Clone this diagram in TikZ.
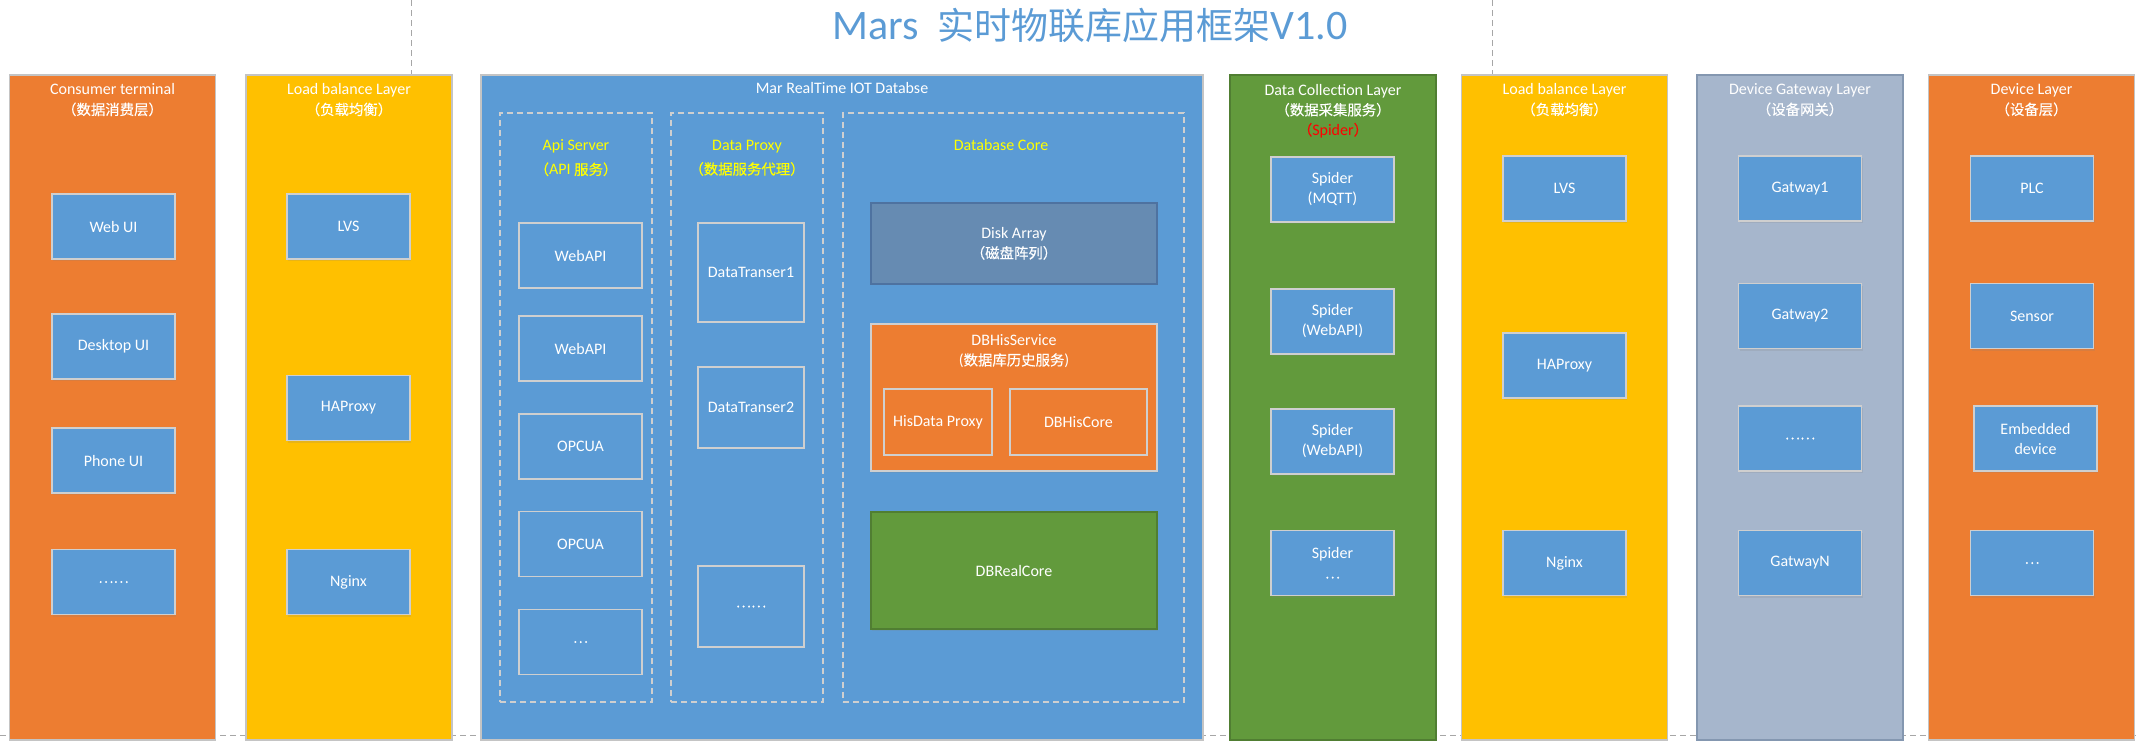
\documentclass[tikz,border=0pt]{standalone}
\usepackage{fontspec}
\setmainfont{Carlito}
\newfontfamily\cjk[Scale=0.9,FakeBold=0.3]{Noto Sans CJK SC}
\newfontfamily\cjktitle[Scale=0.88]{Noto Sans CJK SC}
\usepackage{tikz}
\usetikzlibrary{positioning}
\usetikzlibrary{shadows}

\definecolor{mblue}{HTML}{5B9BD5}
\definecolor{corange}{HTML}{ED7D31}
\definecolor{cyellow}{HTML}{FFC000}
\definecolor{cgreen}{HTML}{629A3C}
\definecolor{cgreenline}{HTML}{507E32}
\definecolor{cgray}{HTML}{A6B6CC}
\definecolor{cgrayline}{HTML}{8497B0}
\definecolor{colline}{HTML}{C4C4C4}
\definecolor{boxline}{HTML}{CFCFCF}
\definecolor{diskblue}{HTML}{668BB2}
\definecolor{diskline}{HTML}{4E72A0}
\definecolor{lblyellow}{HTML}{FFFF00}
\definecolor{spidred}{HTML}{FF0000}
\definecolor{guidegray}{HTML}{A6A6A6}

\begin{document}
\begin{tikzpicture}[x=0.5pt,y=-0.5pt,
    font=\fontsize{8}{10}\selectfont,
    col/.style={draw=colline, line width=0.6pt, minimum width=103pt, minimum height=332.5pt, inner sep=0pt},
    head/.style={text=white, align=center},
    ibox/.style={draw=boxline, line width=0.7pt, fill=mblue, text=white, align=center, minimum width=61.5pt, minimum height=32.5pt, inner sep=0pt,
        drop shadow={opacity=.18, shadow xshift=.5pt, shadow yshift=-1.2pt}},
    sbox/.style={draw=boxline, line width=0.6pt, text=white, align=center, inner sep=0pt},
    abox/.style={sbox, minimum width=61.5pt, minimum height=32.5pt},
    pbox/.style={sbox, minimum width=53pt},
    group/.style={draw=boxline, line width=0.6pt, dash pattern=on 3pt off 2pt, minimum width=76pt, minimum height=294.5pt, inner sep=0pt},
    glabel/.style={text=lblyellow, align=center, font=\fontsize{8}{12}\selectfont},
    guide/.style={draw=guidegray, line width=0.5pt, dash pattern=on 3pt off 2pt}]
    \useasboundingbox (0,0) rectangle (2140,746);

    % page guides
    \draw [guide] (0,735) -- (2140,735);
    \draw [guide] (411,0) -- (411,75);
    \draw [guide] (1492,0) -- (1492,75);

    \node [text=mblue, font=\fontsize{21}{25}\selectfont] (title) at (1090,25) {Mars\hspace{0.45em}{\cjktitle 实时物联库应用框架}V1.0};

    % layers
    \node [col, fill=corange] (cons) at (112.5,407.5) {};
    \node [col, fill=cyellow] (lb1) at (349,407.5) {};
    \node [col, fill=mblue, minimum width=361pt] (db) at (842,407.5) {};
    \node [col, fill=cgreen, draw=cgreenline] (coll) at (1333,407.5) {};
    \node [col, fill=cyellow] (lb2) at (1564.5,407.5) {};
    \node [col, fill=cgray, draw=cgrayline] (gw) at (1800,407.5) {};
    \node [col, fill=corange] (dev) at (2031.5,407.5) {};

    \node [head] (consh) at (112.5,100) {Consumer terminal\\{\cjk （数据消费层）}};
    \node [head] (lb1h) at (349,100) {Load balance Layer\\{\cjk （负载均衡）}};
    \node [head] (dbh) at (842,88) {Mar RealTime IOT Databse};
    \node [head] (collh) at (1333,111) {Data Collection Layer\\{\cjk （数据采集服务）}\\{\color{spidred}{\cjk （}Spider{\cjk ）}}};
    \node [head] (lb2h) at (1564.5,100) {Load balance Layer\\{\cjk （负载均衡）}};
    \node [head] (gwh) at (1800,100) {Device Gateway Layer\\{\cjk （设备网关）}};
    \node [head] (devh) at (2031.5,100) {Device Layer\\{\cjk （设备层）}};

    % consumer terminal
    \node [ibox] (webui) at (113.5,226.5) {Web UI};
    \node [ibox] (deskui) at (113.5,346.5) {Desktop UI};
    \node [ibox] (phoneui) at (113.5,460.5) {Phone UI};
    \node [ibox] (consmore) at (113.5,582) {\cjk ……};

    % load balance
    \node [ibox] (lvs1) at (348.5,226.5) {LVS};
    \node [ibox] (haproxy1) at (348.5,408) {HAProxy};
    \node [ibox] (nginx1) at (348.5,582) {Nginx};

    % realtime database
    \node [group] (api) at (576,407.5) {};
    \node [group] (proxy) at (747,407.5) {};
    \node [group, minimum width=170.5pt] (core) at (1013.5,407.5) {};
    \node [glabel] (apih) at (576,158) {Api Server\\{\cjk （}API {\cjk 服务）}};
    \node [glabel] (proxyh) at (747,158) {Data Proxy\\{\cjk （数据服务代理）}};
    \node [glabel] (coreh) at (1001,145) {Database Core};

    \node [abox] (webapi1) at (580.5,255.5) {WebAPI};
    \node [abox] (webapi2) at (580.5,348.5) {WebAPI};
    \node [abox] (opcua1) at (580.5,446.5) {OPCUA};
    \node [abox] (opcua2) at (580.5,544) {OPCUA};
    \node [abox] (apimore) at (580.5,642) {\cjk …};

    \node [pbox, minimum height=49.5pt] (trans1) at (751,272.5) {DataTranser1};
    \node [pbox, minimum height=40.5pt] (trans2) at (751,407.5) {DataTranser2};
    \node [pbox, minimum height=40.5pt] (proxymore) at (751,606.5) {\cjk ……};

    \node [draw=diskline, line width=0.6pt, fill=diskblue, text=white, align=center, minimum width=143pt, minimum height=40.5pt] (disk) at (1014,243.5) {Disk Array\\{\cjk （磁盘阵列）}};
    \node [draw=boxline, line width=0.7pt, fill=corange, minimum width=143pt, minimum height=73.5pt,
        drop shadow={opacity=.18, shadow xshift=.5pt, shadow yshift=-1.2pt}] (his) at (1014,397.5) {};
    \node [head] (hish) at (1014,351) {DBHisService\\({\cjk 数据库历史服务})};
    \node [sbox, minimum width=54pt, minimum height=33pt] (hisproxy) at (938,422) {HisData Proxy};
    \node [sbox, minimum width=68.5pt, minimum height=33pt] (hiscore) at (1078.5,422) {DBHisCore};
    \node [draw=cgreenline, line width=0.7pt, fill=cgreen, text=white, minimum width=143pt, minimum height=58.5pt,
        drop shadow={opacity=.18, shadow xshift=.5pt, shadow yshift=-1.2pt}] (realcore) at (1014,570.5) {DBRealCore};

    % data collection
    \node [ibox] (spider1) at (1332.5,189.5) {Spider\\(MQTT)};
    \node [ibox] (spider2) at (1332.5,321.5) {Spider\\(WebAPI)};
    \node [ibox] (spider3) at (1332.5,441.5) {Spider\\(WebAPI)};
    \node [ibox] (spider4) at (1332.5,563) {Spider\\{\cjk …}};

    % load balance
    \node [ibox] (lvs2) at (1564.5,188.5) {LVS};
    \node [ibox] (haproxy2) at (1564.5,365.5) {HAProxy};
    \node [ibox] (nginx2) at (1564.5,563) {Nginx};

    % device gateway
    \node [ibox] (gw1) at (1800,188.5) {Gatway1};
    \node [ibox] (gw2) at (1800,316) {Gatway2};
    \node [ibox] (gwmore) at (1800,438.5) {\cjk ……};
    \node [ibox] (gwn) at (1800,563) {GatwayN};

    % device
    \node [ibox] (plc) at (2032,188.5) {PLC};
    \node [ibox] (sensor) at (2032,316) {Sensor};
    \node [ibox] (embed) at (2035.5,438.5) {Embedded\\device};
    \node [ibox] (devmore) at (2032,563) {\cjk …};
\end{tikzpicture}
\end{document}
